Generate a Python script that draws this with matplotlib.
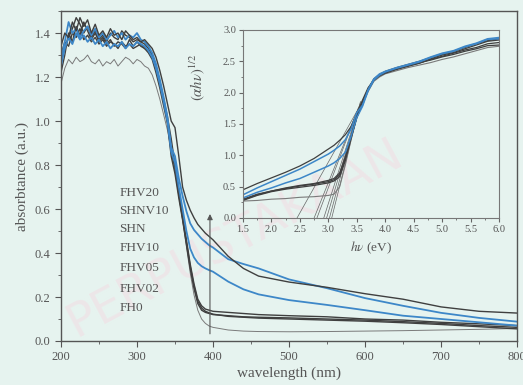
import numpy as np
import matplotlib
matplotlib.use('Agg')
import matplotlib.pyplot as plt
from matplotlib.ticker import MultipleLocator

plt.rcParams['font.family'] = ['Liberation Serif', 'DejaVu Serif']
plt.rcParams['mathtext.fontset'] = 'stix'

# wavelength grid (nm)
wl = [200, 205, 210, 215, 220, 225, 230, 235, 240, 245, 250, 255, 260, 265, 270, 275,
      280, 285, 290, 295, 300, 305, 310, 315,
      320, 325, 330, 335, 340, 345, 350, 355, 360, 365, 370, 375, 380, 385, 390, 395, 400,
      420, 440, 460, 500, 550, 600, 650, 700, 750, 800]

abs_fhv20 = [1.34, 1.40, 1.38, 1.45, 1.41, 1.47, 1.43, 1.46, 1.40, 1.44, 1.39, 1.41, 1.38, 1.42, 1.39, 1.40,
             1.37, 1.41, 1.39, 1.37, 1.38, 1.36, 1.37, 1.35,
             1.33, 1.29, 1.23, 1.16, 1.08, 1.00, 0.97, 0.84, 0.70, 0.64, 0.595, 0.56, 0.53, 0.51, 0.49, 0.475, 0.46,
             0.385, 0.33, 0.295, 0.268, 0.244, 0.215, 0.19, 0.155, 0.135, 0.127]
abs_blue1 = [1.28, 1.36, 1.45, 1.40, 1.42, 1.38, 1.41, 1.43, 1.39, 1.42, 1.38, 1.40, 1.37, 1.39, 1.41, 1.38,
             1.40, 1.37, 1.39, 1.38, 1.40, 1.37, 1.36, 1.34,
             1.31, 1.26, 1.19, 1.11, 1.02, 0.88, 0.84, 0.74, 0.66, 0.59, 0.535, 0.505, 0.485, 0.465, 0.45, 0.435, 0.425,
             0.372, 0.35, 0.33, 0.28, 0.24, 0.195, 0.16, 0.128, 0.105, 0.088]
abs_blue2 = [1.25, 1.33, 1.38, 1.35, 1.40, 1.37, 1.39, 1.36, 1.38, 1.35, 1.37, 1.34, 1.36, 1.33, 1.35, 1.34,
             1.36, 1.33, 1.35, 1.34, 1.36, 1.35, 1.34, 1.32,
             1.29, 1.24, 1.17, 1.09, 1.00, 0.86, 0.81, 0.70, 0.60, 0.50, 0.42, 0.38, 0.355, 0.34, 0.33, 0.322, 0.315,
             0.27, 0.235, 0.212, 0.186, 0.164, 0.14, 0.115, 0.10, 0.085, 0.07]
abs_c1 = [1.27, 1.33, 1.38, 1.42, 1.47, 1.44, 1.40, 1.43, 1.38, 1.41, 1.37, 1.39, 1.36, 1.40, 1.38, 1.37,
          1.41, 1.39, 1.38, 1.36, 1.37, 1.36, 1.35, 1.33,
          1.30, 1.25, 1.18, 1.10, 1.02, 0.92, 0.80, 0.68, 0.57, 0.46, 0.35, 0.26, 0.19, 0.16, 0.145, 0.14, 0.135,
          0.13, 0.125, 0.12, 0.115, 0.11, 0.10, 0.095, 0.085, 0.078, 0.07]
abs_c2 = [1.30, 1.36, 1.34, 1.40, 1.38, 1.42, 1.37, 1.39, 1.36, 1.38, 1.35, 1.37, 1.34, 1.36, 1.35, 1.33,
          1.36, 1.34, 1.35, 1.33, 1.34, 1.35, 1.33, 1.31,
          1.28, 1.22, 1.15, 1.07, 0.99, 0.84, 0.76, 0.65, 0.55, 0.44, 0.33, 0.24, 0.17, 0.14, 0.13, 0.125, 0.12,
          0.115, 0.11, 0.108, 0.105, 0.10, 0.095, 0.088, 0.08, 0.07, 0.062]
abs_c3 = [1.22, 1.30, 1.40, 1.36, 1.43, 1.39, 1.45, 1.41, 1.37, 1.40, 1.36, 1.38, 1.35, 1.37, 1.34, 1.36,
          1.35, 1.33, 1.37, 1.34, 1.36, 1.34, 1.33, 1.32,
          1.29, 1.24, 1.17, 1.09, 1.00, 0.86, 0.79, 0.67, 0.56, 0.45, 0.34, 0.25, 0.18, 0.15, 0.135, 0.128, 0.122,
          0.112, 0.108, 0.104, 0.10, 0.095, 0.09, 0.083, 0.075, 0.065, 0.055]
abs_fh0 = [1.17, 1.24, 1.28, 1.26, 1.29, 1.27, 1.28, 1.30, 1.27, 1.26, 1.28, 1.25, 1.27, 1.26, 1.28, 1.25,
           1.27, 1.29, 1.28, 1.26, 1.28, 1.27, 1.25, 1.24,
           1.21, 1.16, 1.10, 1.03, 0.96, 0.87, 0.77, 0.66, 0.55, 0.43, 0.31, 0.21, 0.14, 0.10, 0.08, 0.068, 0.062,
           0.05, 0.045, 0.043, 0.042, 0.043, 0.045, 0.047, 0.05, 0.053, 0.057]

sample_names = ['FHV20', 'SHNV10', 'SHN', 'FHV10', 'FHV05', 'FHV02', 'FH0']

# Tauc plot (inset)
ev = [1.5, 1.75, 2.0, 2.25, 2.5, 2.75, 3.0, 3.1, 3.2, 3.3, 3.4, 3.5, 3.6, 3.7, 3.8, 3.9, 4.0,
      4.2, 4.4, 4.6, 4.8, 5.0, 5.2, 5.4, 5.6, 5.8, 6.0]
tauc_fhv20 = [0.45, 0.55, 0.64, 0.73, 0.83, 0.95, 1.10, 1.16, 1.24, 1.33, 1.46, 1.66, 1.88, 2.08, 2.20, 2.27, 2.32,
              2.38, 2.43, 2.47, 2.53, 2.58, 2.63, 2.68, 2.72, 2.78, 2.80]
tauc_blue1 = [0.37, 0.48, 0.58, 0.68, 0.78, 0.90, 1.02, 1.08, 1.15, 1.25, 1.42, 1.68, 1.80, 2.05, 2.22, 2.30, 2.34,
              2.40, 2.45, 2.50, 2.57, 2.63, 2.67, 2.74, 2.79, 2.86, 2.88]
tauc_blue2 = [0.32, 0.41, 0.48, 0.56, 0.63, 0.73, 0.83, 0.88, 0.95, 1.05, 1.30, 1.60, 1.78, 2.03, 2.20, 2.28, 2.33,
              2.39, 2.44, 2.49, 2.56, 2.62, 2.66, 2.73, 2.78, 2.85, 2.86]
tauc_c1 = [0.30, 0.38, 0.43, 0.48, 0.52, 0.55, 0.60, 0.63, 0.72, 0.98, 1.30, 1.62, 1.85, 2.06, 2.22, 2.29, 2.34,
           2.40, 2.45, 2.50, 2.56, 2.61, 2.66, 2.72, 2.78, 2.83, 2.86]
tauc_c2 = [0.28, 0.36, 0.42, 0.46, 0.49, 0.52, 0.56, 0.59, 0.66, 0.92, 1.28, 1.60, 1.83, 2.04, 2.20, 2.27, 2.31,
           2.37, 2.42, 2.47, 2.54, 2.60, 2.64, 2.70, 2.76, 2.82, 2.84]
tauc_c3 = [0.29, 0.37, 0.43, 0.47, 0.51, 0.54, 0.58, 0.61, 0.69, 0.95, 1.29, 1.61, 1.84, 2.05, 2.21, 2.28, 2.33,
           2.38, 2.43, 2.48, 2.52, 2.57, 2.61, 2.66, 2.70, 2.75, 2.76]
tauc_fh0 = [0.27, 0.28, 0.30, 0.31, 0.33, 0.34, 0.36, 0.38, 0.50, 0.85, 1.25, 1.60, 1.82, 2.02, 2.18, 2.25, 2.30,
            2.35, 2.40, 2.44, 2.48, 2.53, 2.57, 2.62, 2.67, 2.72, 2.74]

# band gap extrapolation lines
gap_ev = [2.45, 2.75, 2.80, 2.92, 2.97, 3.02, 3.06]
tan_end_ev = [3.50, 3.52, 3.53, 3.55, 3.55, 3.56, 3.57]
tan_end_y = [1.70, 1.74, 1.76, 1.80, 1.80, 1.84, 1.86]

bg = '#e6f3ef'
dark = '#3f3f3f'
blue = '#3d87c8'
gray = '#7a7a7a'
txt = '#555555'

fig = plt.figure(figsize=(5.23, 3.85), dpi=100, facecolor=bg)
ax = fig.add_axes([0.1166, 0.1143, 0.872, 0.857])
ax.set_facecolor(bg)

# faint watermark, behind everything
ax.text(0.45, 0.38, 'PERPUSTAKAAN', rotation=28, fontsize=34, color='#ede6e8',
        family='DejaVu Sans', zorder=0, ha='center', va='center',
        transform=fig.transFigure)

ax.plot(wl, abs_fh0, color=gray, lw=0.7)
ax.plot(wl, abs_c2, color=dark, lw=1.0)
ax.plot(wl, abs_c3, color=dark, lw=1.0)
ax.plot(wl, abs_c1, color=dark, lw=1.0)
ax.plot(wl, abs_blue2, color=blue, lw=1.3)
ax.plot(wl, abs_blue1, color=blue, lw=1.3)
ax.plot(wl, abs_fhv20, color=dark, lw=1.0)

ax.annotate('', xy=(396, 0.59), xytext=(396, 0.02),
            arrowprops=dict(arrowstyle='-|>', color='#555555', lw=0.8, mutation_scale=8))

label_y = [0.671, 0.592, 0.508, 0.421, 0.330, 0.235, 0.149]
for name, yy in zip(sample_names, label_y):
    ax.text(277, yy, name, fontsize=9.5, color=txt, va='center', ha='left')

ax.set_xlim(200, 800)
ax.set_ylim(0, 1.5)
ax.xaxis.set_major_locator(MultipleLocator(100))
ax.xaxis.set_minor_locator(MultipleLocator(50))
ax.yaxis.set_major_locator(MultipleLocator(0.2))
ax.yaxis.set_minor_locator(MultipleLocator(0.1))
ax.yaxis.set_major_formatter(matplotlib.ticker.FormatStrFormatter('%.1f'))
ax.tick_params(which='both', direction='out', colors='#555555', labelsize=9, labelcolor=txt)
ax.tick_params(which='major', length=4)
ax.tick_params(which='minor', length=2)
for s in ax.spines.values():
    s.set_color('#555555')
    s.set_linewidth(1.0)
ax.set_xlabel('wavelength (nm)', fontsize=11, color=txt, labelpad=2)
ax.set_ylabel('absorbtance (a.u.)', fontsize=11, color=txt, labelpad=4)

# inset
ins = fig.add_axes([0.4646, 0.4338, 0.4895, 0.4883])
ins.set_facecolor('none')
for e0, e1, y1 in zip(gap_ev, tan_end_ev, tan_end_y):
    ins.plot([e0, e1], [0, y1], color='#666666', lw=0.5)
ins.plot(ev, tauc_fh0, color=gray, lw=0.8)
ins.plot(ev, tauc_c2, color=dark, lw=0.9)
ins.plot(ev, tauc_c3, color=dark, lw=0.9)
ins.plot(ev, tauc_c1, color=dark, lw=0.9)
ins.plot(ev, tauc_fhv20, color=dark, lw=0.9)
ins.plot(ev, tauc_blue2, color=blue, lw=1.1)
ins.plot(ev, tauc_blue1, color=blue, lw=1.1)

ins.set_xlim(1.5, 6.0)
ins.set_ylim(0, 3.0)
ins.xaxis.set_major_locator(MultipleLocator(0.5))
ins.xaxis.set_minor_locator(MultipleLocator(0.25))
ins.yaxis.set_major_locator(MultipleLocator(0.5))
ins.yaxis.set_minor_locator(MultipleLocator(0.25))
ins.xaxis.set_major_formatter(matplotlib.ticker.FormatStrFormatter('%.1f'))
ins.yaxis.set_major_formatter(matplotlib.ticker.FormatStrFormatter('%.1f'))
ins.tick_params(which='both', direction='out', colors='#666666', labelsize=7.5, labelcolor=txt, pad=2)
ins.tick_params(which='major', length=3)
ins.tick_params(which='minor', length=1.5)
for s in ins.spines.values():
    s.set_color('#777777')
    s.set_linewidth(0.8)
ins.set_xlabel(r'$h\nu$ (eV)', fontsize=9.5, color=txt, labelpad=4)
ins.set_ylabel(r'$(\alpha h\nu)^{1/2}$', fontsize=10.5, color=txt)
ins.yaxis.set_label_coords(-0.14, 0.75)

plt.savefig('out.png', dpi=100, facecolor=bg)
